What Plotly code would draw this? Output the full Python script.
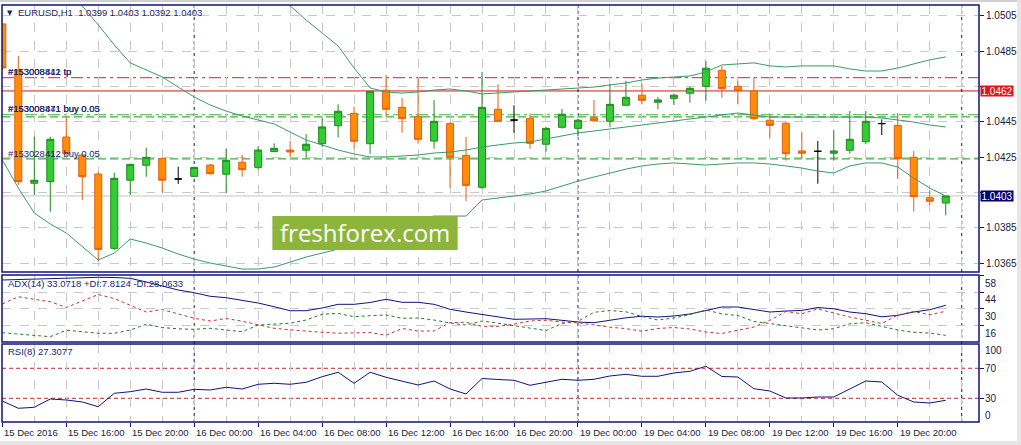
import plotly.graph_objects as go

# EURUSD H1, bar 0 = 15 Dec 2016 12:00 (weekend bars skipped)
o = [1.05005, 1.04744, 1.04102, 1.04111, 1.04364, 1.04262, 1.04154, 1.03733, 1.04119, 1.04204,
     1.04243, 1.04126, 1.04141, 1.04205, 1.04153, 1.04221, 1.04192, 1.04281, 1.04290, 1.04289,
     1.04326, 1.04428, 1.04498, 1.04326, 1.04629, 1.04532, 1.04481, 1.04341, 1.04440, 1.04260,
     1.04079, 1.04521, 1.04460, 1.04470, 1.04323, 1.04419, 1.04413, 1.04472, 1.04453, 1.04544,
     1.04601, 1.04561, 1.04583, 1.04612, 1.04651, 1.04742, 1.04651, 1.04625, 1.04459, 1.04442,
     1.04285, 1.04283, 1.04272, 1.04289, 1.04337, 1.04440, 1.04430, 1.04249, 1.04020, 1.03990]
h = [1.05010, 1.04823, 1.04366, 1.04366, 1.04483, 1.04265, 1.04167, 1.04162, 1.04212, 1.04303,
     1.04245, 1.04196, 1.04195, 1.04211, 1.04300, 1.04262, 1.04313, 1.04328, 1.04341, 1.04380,
     1.04470, 1.04549, 1.04536, 1.04625, 1.04716, 1.04585, 1.04695, 1.04574, 1.04450, 1.04364,
     1.04733, 1.04663, 1.04544, 1.04498, 1.04422, 1.04523, 1.04465, 1.04574, 1.04663, 1.04682,
     1.04665, 1.04591, 1.04610, 1.04650, 1.04795, 1.04765, 1.04682, 1.04702, 1.04494, 1.04453,
     1.04390, 1.04341, 1.04404, 1.04511, 1.04511, 1.04464, 1.04498, 1.04285, 1.04060, 1.04030]
l = [1.04744, 1.04092, 1.04035, 1.03941, 1.04265, 1.04007, 1.03661, 1.03723, 1.04035, 1.04139,
     1.04048, 1.04098, 1.04138, 1.04150, 1.04048, 1.04139, 1.04181, 1.04279, 1.04252, 1.04243,
     1.04307, 1.04362, 1.04296, 1.04269, 1.04479, 1.04388, 1.04326, 1.04298, 1.04077, 1.04001,
     1.04070, 1.04450, 1.04388, 1.04298, 1.04281, 1.04411, 1.04370, 1.04450, 1.04419, 1.04540,
     1.04549, 1.04521, 1.04545, 1.04558, 1.04570, 1.04587, 1.04549, 1.04460, 1.04360, 1.04230,
     1.04243, 1.04099, 1.04230, 1.04269, 1.04324, 1.04375, 1.04126, 1.03941, 1.03980, 1.03920]
c = [1.04755, 1.04111, 1.04119, 1.04351, 1.04269, 1.04139, 1.03727, 1.04130, 1.04209, 1.04249,
     1.04119, 1.04126, 1.04192, 1.04156, 1.04232, 1.04179, 1.04290, 1.04300, 1.04279, 1.04323,
     1.04421, 1.04510, 1.04340, 1.04623, 1.04521, 1.04468, 1.04351, 1.04453, 1.04249, 1.04090,
     1.04532, 1.04453, 1.04460, 1.04328, 1.04413, 1.04493, 1.04459, 1.04456, 1.04549, 1.04589,
     1.04572, 1.04574, 1.04601, 1.04640, 1.04754, 1.04638, 1.04626, 1.04468, 1.04430, 1.04269,
     1.04272, 1.04283, 1.04285, 1.04351, 1.04453, 1.04440, 1.04241, 1.04026, 1.04000, 1.04030]

# Bollinger bands
bb_up = [1.0598, 1.0597, 1.0596, 1.0594, 1.0591, 1.0588, 1.0584, 1.0580, 1.0575, 1.0570,
         1.0565, 1.0559, 1.0553, 1.0547, 1.0540, 1.0533, 1.0525, 1.0518, 1.05107, 1.05027,
         1.04954, 1.04880, 1.04755, 1.04642, 1.04619, 1.04613, 1.04619, 1.04630, 1.04636, 1.04625,
         1.04608, 1.04613, 1.04619, 1.04625, 1.04630, 1.04636, 1.04642, 1.04647, 1.04659, 1.04670,
         1.04687, 1.04698, 1.04704, 1.04710, 1.04732, 1.04772, 1.04778, 1.04784, 1.04767, 1.04761,
         1.04767, 1.04767, 1.04767, 1.04750, 1.04738, 1.04738, 1.04755, 1.04778, 1.04801, 1.04818]
bb_mid = [1.05481, 1.05424, 1.05356, 1.05282, 1.05197, 1.05107, 1.04999, 1.04886, 1.04784, 1.04744,
          1.04704, 1.04647, 1.04591, 1.04545, 1.04511, 1.04483, 1.04460, 1.04438, 1.04392, 1.04347,
          1.04319, 1.04290, 1.04268, 1.04251, 1.04251, 1.04256, 1.04262, 1.04273, 1.04279, 1.04290,
          1.04307, 1.04319, 1.04330, 1.04336, 1.04353, 1.04370, 1.04387, 1.04398, 1.04409, 1.04421,
          1.04432, 1.04443, 1.04455, 1.04466, 1.04477, 1.04489, 1.04500, 1.04489, 1.04477, 1.04477,
          1.04477, 1.04477, 1.04477, 1.04477, 1.04477, 1.04472, 1.04460, 1.04449, 1.04432, 1.04421]
bb_low = [1.04234, 1.04075, 1.03933, 1.03871, 1.03820, 1.03746, 1.03667, 1.03706, 1.03786, 1.03763,
          1.03735, 1.03701, 1.03672, 1.03650, 1.03633, 1.03616, 1.03616, 1.03627, 1.03655, 1.03684,
          1.03706, 1.03729, 1.03746, 1.03780, 1.03820, 1.03859, 1.03899, 1.03916, 1.03916, 1.03916,
          1.04007, 1.04018, 1.04029, 1.04041, 1.04058, 1.04086, 1.04114, 1.04137, 1.04160, 1.04182,
          1.04200, 1.04211, 1.04217, 1.04211, 1.04205, 1.04211, 1.04217, 1.04217, 1.04211, 1.04200,
          1.04188, 1.04171, 1.04160, 1.04200, 1.04217, 1.04217, 1.04194, 1.04131, 1.04075, 1.04029]

# ADX(14)
adx = [54.37, 54.79, 55.21, 55.8, 56.05, 56.3, 56.64, 56.47, 55.8, 52.68,
       49.32, 45.95, 43.68, 40.65, 39.47, 37.53, 35.01, 31.89, 28.52, 28.52,
       30.8, 33.91, 33.91, 35.43, 38.12, 35.6, 35.6, 33.91, 29.7, 27.43,
       25.33, 23.22, 21.29, 21.54, 21.79, 20.44, 19.01, 18.42, 20.7, 22.55,
       23.89, 23.22, 24.06, 25.75, 28.69, 31.64, 31.64, 29.53, 27.43, 28.27,
       28.78, 31.22, 30.12, 27.43, 26.0, 23.39, 24.65, 27.43, 29.37, 33.07]
plus_di = [10.01, 8.91, 7.65, 6.64, 12.11, 11.02, 9.59, 9.5, 12.28, 17.16,
           14.38, 13.29, 12.87, 13.71, 12.28, 10.85, 16.49, 17.5, 18.0, 20.7,
           25.58, 26.25, 23.47, 24.4, 24.91, 22.13, 22.38, 20.7, 18.17, 16.49,
           19.85, 18.0, 16.07, 13.54, 11.86, 17.75, 19.6, 27.18, 28.69, 27.6,
           23.64, 20.7, 22.38, 25.24, 29.11, 25.92, 24.48, 19.52, 17.58, 15.65,
           13.96, 12.28, 13.37, 17.58, 18.42, 15.06, 12.28, 10.34, 9.75, 7.81]
minus_di = [34.16, 40.31, 38.12, 36.1, 31.22, 36.69, 42.16, 38.79, 33.32, 27.43,
            29.53, 25.75, 22.13, 19.85, 21.96, 19.69, 16.91, 13.71, 12.45, 11.27,
            10.34, 9.59, 10.17, 10.17, 7.9, 13.54, 11.44, 11.44, 18.59, 18.76,
            15.39, 15.39, 17.16, 19.85, 20.44, 19.01, 18.42, 16.49, 14.64, 13.46,
            11.27, 13.54, 14.38, 13.12, 10.6, 9.33, 12.11, 14.8, 20.44, 27.85,
            26.0, 29.96, 26.59, 23.22, 20.53, 17.67, 24.91, 27.85, 25.16, 28.06]

# RSI(8)
rsi = [26.4, 16.67, 18.0, 29.07, 27.73, 25.07, 18.8, 36.67, 38.8, 42.4,
       38.0, 38.0, 42.0, 41.07, 44.67, 42.4, 48.67, 50.0, 48.67, 51.33,
       58.8, 64.67, 50.0, 64.67, 58.0, 53.07, 47.73, 53.07, 42.4, 35.73,
       56.4, 55.07, 54.0, 47.33, 51.73, 55.33, 54.0, 55.33, 59.73, 62.0,
       59.33, 59.33, 63.73, 66.0, 72.67, 59.07, 58.4, 42.8, 39.73, 30.4,
       30.4, 31.73, 31.73, 42.8, 53.07, 51.73, 34.0, 25.07, 23.73, 27.31]

tick_idx = [0, 4, 8, 12, 16, 20, 24, 28, 32, 36, 40, 44, 48, 52, 56]
tick_text = ["15 Dec 2016", "15 Dec 16:00", "15 Dec 20:00", "16 Dec 00:00", "16 Dec 04:00",
             "16 Dec 08:00", "16 Dec 12:00", "16 Dec 16:00", "16 Dec 20:00", "19 Dec 00:00",
             "19 Dec 04:00", "19 Dec 08:00", "19 Dec 12:00", "19 Dec 16:00", "19 Dec 20:00"]
separators = [12, 36, 60]
price_ticks = [1.0365, 1.0385, 1.0405, 1.0425, 1.0445, 1.0465, 1.0485, 1.0505]
adx_ticks = [58, 44, 30, 16]
rsi_levels = [70, 30]

tp_level = 1.0470
red_level = 1.04625
buy_levels = [1.04490, 1.04478]
buy2_level = 1.0424
bid_level = 1.0403
order_text = ["#153008412 tp", "#153008841 tp", "#153008471 buy 0.05",
              "#153008841 buy 0.03", "#153028412 buy 0.05"]
order_lvl = [tp_level, tp_level, buy_levels[0], buy_levels[0], buy2_level]

NAVY = "#12127e"
GRID = "#c8c8c8"
FONT = "Liberation Sans"
TXT = "#1e1e6e"

idx = list(range(len(o)))
norm = [i for i in idx if o[i] != c[i]]
doji = [i for i in idx if o[i] == c[i]]

fig = go.Figure()

for band in (bb_up, bb_mid, bb_low):
    fig.add_trace(go.Scatter(x=idx, y=band, mode="lines", line=dict(color="#3a9a6a", width=1),
                             hoverinfo="skip"))

fig.add_trace(go.Scatter(x=[0.35] * len(order_text), y=order_lvl, mode="text", text=order_text,
                         textposition="top right", textfont=dict(family=FONT, size=9.5, color=TXT),
                         hoverinfo="skip"))

fig.add_trace(go.Candlestick(
    x=norm, open=[o[i] for i in norm], high=[h[i] for i in norm],
    low=[l[i] for i in norm], close=[c[i] for i in norm],
    increasing=dict(line=dict(color="#1f8a1f", width=1), fillcolor="#33cc33"),
    decreasing=dict(line=dict(color="#e5600c", width=1), fillcolor="#ff8c0a"),
    hoverinfo="skip"))
fig.add_trace(go.Candlestick(
    x=doji, open=[o[i] for i in doji], high=[h[i] for i in doji],
    low=[l[i] for i in doji], close=[c[i] for i in doji],
    increasing=dict(line=dict(color="black", width=1), fillcolor="black"),
    decreasing=dict(line=dict(color="black", width=1), fillcolor="black"),
    hoverinfo="skip"))

fig.add_trace(go.Scatter(x=idx, y=adx, mode="lines", line=dict(color=NAVY, width=1),
                         xaxis="x", yaxis="y2", hoverinfo="skip"))
fig.add_trace(go.Scatter(x=idx, y=plus_di, mode="lines", line=dict(color="#1f7a1f", width=1, dash="3px,3px"),
                         xaxis="x", yaxis="y2", hoverinfo="skip"))
fig.add_trace(go.Scatter(x=idx, y=minus_di, mode="lines", line=dict(color="#c83030", width=1, dash="3px,3px"),
                         xaxis="x", yaxis="y2", hoverinfo="skip"))
fig.add_trace(go.Scatter(x=idx, y=rsi, mode="lines", line=dict(color=NAVY, width=1),
                         xaxis="x", yaxis="y3", hoverinfo="skip"))

shapes = []
# order / price lines in main window
shapes.append(dict(type="line", xref="paper", x0=0, x1=1, yref="y", y0=tp_level, y1=tp_level,
                   line=dict(color="#b8284e", width=1, dash="12px,4px,3px,4px"), layer="below"))
shapes.append(dict(type="line", xref="paper", x0=0, x1=1, yref="y", y0=red_level, y1=red_level,
                   line=dict(color="#d01818", width=1), layer="below"))
shapes.append(dict(type="line", xref="paper", x0=0, x1=1, yref="y", y0=buy_levels[0], y1=buy_levels[0],
                   line=dict(color="#3cb03c", width=1.2, dash="12px,4px,3px,4px"), layer="below"))
shapes.append(dict(type="line", xref="paper", x0=0, x1=1, yref="y", y0=buy_levels[1], y1=buy_levels[1],
                   line=dict(color="#3cb03c", width=1.2, dash="8px,4px"), layer="below"))
shapes.append(dict(type="line", xref="paper", x0=0, x1=1, yref="y", y0=buy2_level, y1=buy2_level,
                   line=dict(color="#3cb03c", width=1.2, dash="8px,4px"), layer="below"))
shapes.append(dict(type="line", xref="paper", x0=0, x1=1, yref="y", y0=bid_level, y1=bid_level,
                   line=dict(color="#c4c4c4", width=1), layer="below"))
for lv in rsi_levels:
    shapes.append(dict(type="line", xref="paper", x0=0, x1=1, yref="y3", y0=lv, y1=lv,
                       line=dict(color="#c02828", width=1, dash="4px,3px"), layer="below"))
for s in separators:
    shapes.append(dict(type="line", xref="x", x0=s, x1=s, yref="paper", y0=0, y1=1,
                       line=dict(color=NAVY, width=1, dash="3px,3px"), layer="below"))
# window frames
for y0, y1 in ((0.3597, 1.0), (0.1918, 0.3525), (0.0, 0.1871)):
    shapes.append(dict(type="rect", xref="paper", yref="paper", x0=0, x1=1, y0=y0, y1=y1,
                       line=dict(color=NAVY, width=1.5), layer="above"))
# terminal window edges (top, right, bottom)
shapes.append(dict(type="rect", xref="paper", yref="paper", x0=-0.01, x1=1.05, y0=1.0072, y1=1.013,
                   fillcolor="#d0d0d0", line=dict(width=0), layer="above"))
shapes.append(dict(type="rect", xref="paper", yref="paper", x0=1.0389, x1=1.05, y0=-0.06, y1=1.013,
                   fillcolor="#e6e6e6", line=dict(width=0), layer="above"))
shapes.append(dict(type="rect", xref="paper", yref="paper", x0=-0.01, x1=1.05, y0=-0.06, y1=-0.0455,
                   fillcolor="#e6e6e6", line=dict(width=0), layer="above"))
# watermark box
shapes.append(dict(type="rect", xref="paper", yref="paper", x0=0.2767, x1=0.4664, y0=0.4125, y1=0.494,
                   fillcolor="#8db53c", line=dict(width=0), layer="above"))

ann = []
ann.append(dict(text="freshforex.com", xref="paper", yref="paper", x=0.3716, y=0.4533,
                showarrow=False, font=dict(family="Open Sans", size=24, color="white")))
ann.append(dict(text="▼", xref="paper", yref="paper", x=0.003, y=0.981, xanchor="left", yanchor="middle",
                showarrow=False, font=dict(family="DejaVu Sans", size=7, color=TXT)))
ann.append(dict(text="EURUSD,H1  %.4f %.4f %.4f %.4f" % (o[-1], h[-1], l[-1], c[-1]),
                xref="paper", yref="paper", x=0.0145, y=0.981, xanchor="left", yanchor="middle",
                showarrow=False, font=dict(family=FONT, size=9.5, color=TXT)))
ann.append(dict(text="ADX(14) 33.0718 +DI:7.8124 -DI:28.0633", xref="paper", yref="paper",
                x=0.004, y=0.3321, xanchor="left", yanchor="middle", showarrow=False,
                font=dict(family=FONT, size=9.5, color=TXT)))
ann.append(dict(text="RSI(8) 27.3077", xref="paper", yref="paper", x=0.004, y=0.1686,
                xanchor="left", yanchor="middle", showarrow=False,
                font=dict(family=FONT, size=9.5, color=TXT)))
# price boxes on the right scale
boxes = ((red_level, "#e8101a"), (bid_level, "#000070"))
for lv, bg in boxes:
    ann.append(dict(text="%.4f" % lv, xref="paper", yref="y", x=1, y=lv, xanchor="left", yanchor="middle",
                    xshift=1, width=32, height=10, borderpad=0, bgcolor=bg, showarrow=False,
                    font=dict(family=FONT, size=10, color="white")))
# indicator scales
for v in adx_ticks:
    ann.append(dict(text=str(v), xref="paper", yref="y2", x=1, y=v, xanchor="left", yanchor="top",
                    xshift=4, showarrow=False, font=dict(family=FONT, size=10, color="#1a1a40")))
for v, anc, sh in ((100, "top", 3), (70, "middle", 0), (30, "middle", 0), (0, "bottom", -2)):
    ann.append(dict(text=str(v), xref="paper", yref="y3", x=1, y=v, xanchor="left", yanchor=anc,
                    yshift=sh, xshift=4, showarrow=False, font=dict(family=FONT, size=10, color="#1a1a40")))
# time scale
for t, s in zip(tick_idx, tick_text):
    ann.append(dict(text=s, xref="x", yref="paper", x=t, y=0, xanchor="left", yanchor="top",
                    yshift=-3, showarrow=False, font=dict(family=FONT, size=9.5, color="#1a1a40")))

# price labels hidden behind the boxes
price_text = []
for v in price_ticks:
    hidden = any(abs(v - lv) < 0.0005 for lv, _ in boxes)
    price_text.append("" if hidden else "%.4f" % v)

fig.update_layout(
    width=1021, height=445,
    margin=dict(l=2, r=42, t=5, b=23),
    paper_bgcolor="white", plot_bgcolor="white",
    showlegend=False,
    boxgap=0.375,
    shapes=shapes, annotations=ann,
    xaxis=dict(range=[-0.02, 61.08], anchor="y3", rangeslider=dict(visible=False),
               tickmode="array", tickvals=tick_idx, showticklabels=False,
               ticks="outside", ticklen=4, tickcolor=NAVY,
               showgrid=True, gridcolor=GRID, griddash="dash", gridwidth=1,
               minor=dict(tickmode="linear", tick0=0, dtick=2, showgrid=True, gridcolor=GRID,
                          griddash="dash", ticks=""),
               zeroline=False, showline=False),
    yaxis=dict(domain=[0.3597, 1.0], range=[1.03599, 1.05112], side="right",
               tickvals=price_ticks, ticktext=price_text,
               ticks="outside", ticklen=4, tickcolor=NAVY,
               tickfont=dict(family=FONT, size=10, color="#1a1a40"),
               showgrid=True, gridcolor=GRID, griddash="dash", zeroline=False),
    yaxis2=dict(domain=[0.1918, 0.3525], range=[2.18, 58.57], side="right",
                tickvals=adx_ticks, showticklabels=False, ticks="outside", ticklen=4, tickcolor=NAVY,
                showgrid=True, gridcolor=GRID, griddash="dash", zeroline=False),
    yaxis3=dict(domain=[0.0, 0.1871], range=[-1.6, 102.4], side="right",
                tickvals=rsi_levels, showticklabels=False, ticks="outside", ticklen=4, tickcolor=NAVY,
                showgrid=False, zeroline=False),
)

# page body has a default margin; drop it so the chart sits at the window corner
fig.write_html("out.html", config={"displayModeBar": False},
               post_script="document.body.style.margin='0';document.body.style.overflow='hidden';")
